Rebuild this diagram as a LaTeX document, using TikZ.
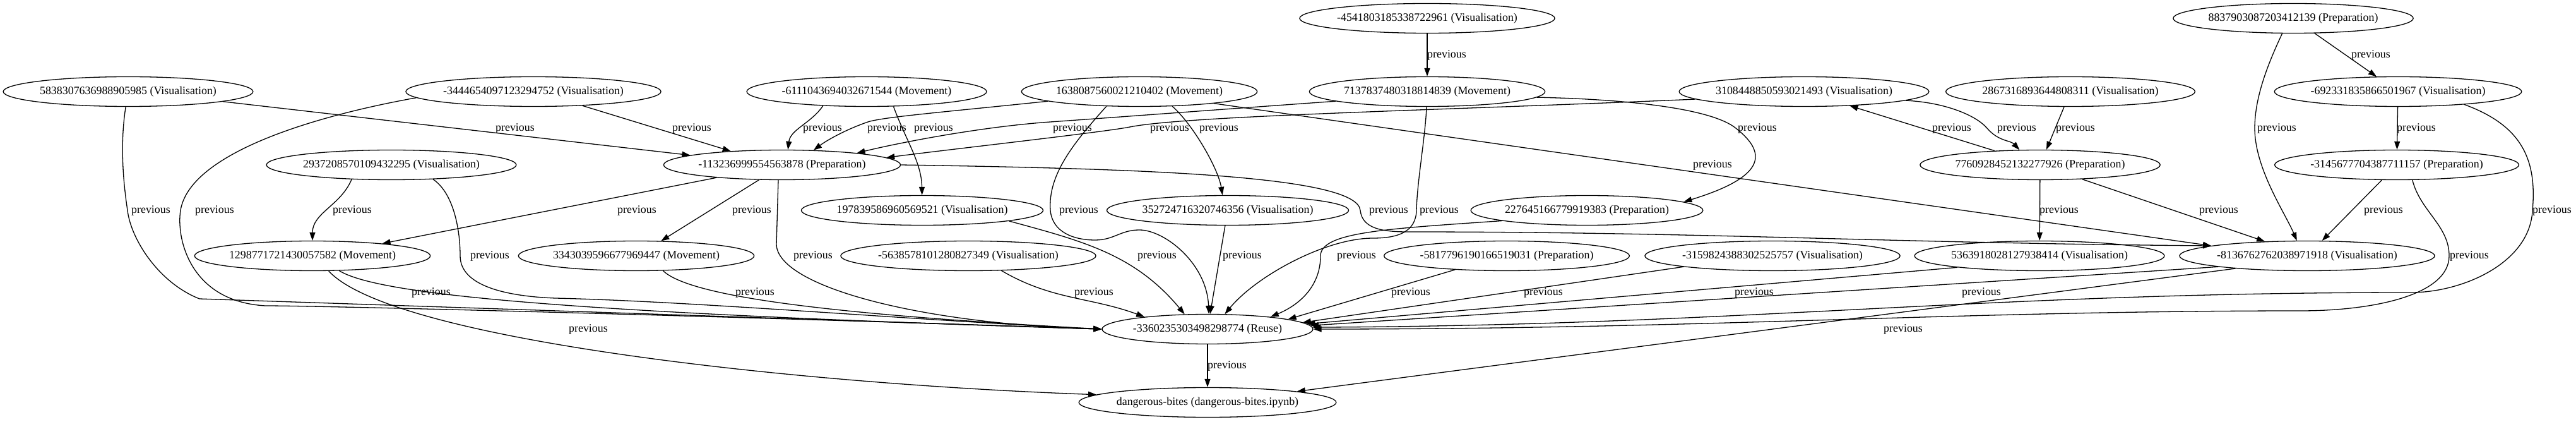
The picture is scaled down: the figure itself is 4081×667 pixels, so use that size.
\documentclass[tikz,border=0pt]{standalone}
\usepackage{fontspec}
\setmainfont{Liberation Serif}
\usetikzlibrary{shapes.geometric,arrows.meta}

\begin{document}
\begin{tikzpicture}[x=1pt,y=1pt,line width=1.3pt,
    cell/.style={draw,ellipse,inner xsep=0pt,inner ysep=2pt,minimum height=47pt,font=\fontsize{17.9}{20}\selectfont},
    lbl/.style={inner sep=0pt,font=\fontsize{17.9}{20}\selectfont},
    prev/.style={-{Triangle[length=13pt,width=9pt]}}]
\useasboundingbox (0,0) rectangle (4081,667);
% top row
\node[cell] (n4541) at (2261,638) {-4541803185338722961 (Visualisation)};
\node[cell] (n8837) at (3633,638) {8837903087203412139 (Preparation)};
% second row
\node[cell] (n5838) at (203,522) {5838307636988905985 (Visualisation)};
\node[cell] (n3444) at (845,522) {-3444654097123294752 (Visualisation)};
\node[cell] (n6111) at (1373,522) {-6111043694032671544 (Movement)};
\node[cell] (n1638) at (1805,522) {1638087560021210402 (Movement)};
\node[cell] (n7137) at (2261,522) {7137837480318814839 (Movement)};
\node[cell] (n3108) at (2858,522) {3108448850593021493 (Visualisation)};
\node[cell] (n2867) at (3280,522) {2867316893644808311 (Visualisation)};
\node[cell] (n6923) at (3799,522) {-692331835866501967 (Visualisation)};
% third row
\node[cell] (n2937) at (620,406) {2937208570109432295 (Visualisation)};
\node[cell] (n1132) at (1239,406) {-113236999554563878 (Preparation)};
\node[cell] (n7760) at (3232,406) {7760928452132277926 (Preparation)};
\node[cell] (n3145) at (3797,406) {-3145677704387711157 (Preparation)};
\node[cell] (n1978) at (1461,334) {197839586960569521 (Visualisation)};
\node[cell] (n3527) at (1945,334) {352724716320746356 (Visualisation)};
\node[cell] (n2276) at (2514,334) {227645166779919383 (Preparation)};
% fourth row
\node[cell] (n1298) at (495,262) {1298771721430057582 (Movement)};
\node[cell] (n3343) at (1008,262) {3343039596677969447 (Movement)};
\node[cell] (n5638) at (1534,262) {-5638578101280827349 (Visualisation)};
\node[cell] (n5817) at (2387,262) {-5817796190166519031 (Preparation)};
\node[cell] (n3159) at (2808,262) {-3159824388302525757 (Visualisation)};
\node[cell] (n5363) at (3231,262) {5363918028127938414 (Visualisation)};
\node[cell] (n8136) at (3655,262) {-8136762762038971918 (Visualisation)};
% bottom
\node[cell] (n3360) at (1913,146) {-3360235303498298774 (Reuse)};
\node[cell] (ndb) at (1913,30) {dangerous-bites (dangerous-bites.ipynb)};

% edges
\draw[prev] (n4541) -- (n7137);
\draw[prev] (n8837) -- (n6923);
\draw[prev] (n8837.-126) .. controls (3590,560) and (3572,510) .. (3572,464) .. controls (3572,400) and (3620,330) .. (n8136.124);
\draw[prev] (n6923) -- (n3145);
\draw[prev] (n6923.-11) .. controls (3990,470) and (4020,420) .. (4012,334) .. controls (4008,250) and (3900,204) .. (3820,204) .. controls (3140,204) and (2760,152) .. (n3360.1);
\draw[prev] (n3145) -- (n8136);
\draw[prev] (n3145.-44) .. controls (3834,333) and (3880,310) .. (3880,262) .. controls (3880,200) and (3760,175) .. (3645,175) .. controls (3100,175) and (2700,146) .. (n3360.0);
\draw[prev] (n2867) -- (n7760);
\draw[prev] (n7760) -- (n3108);
\draw[prev] (n3108.-5) .. controls (3080,505) and (3130,485) .. (3148,464) .. controls (3166,443) and (3185,445) .. (n7760.144);
\draw[prev] (n7760) -- (n5363);
\draw[prev] (n7760) -- (n8136);
\draw[prev] (n3108.184) .. controls (2300,493) and (1880,484) .. (1790,466) .. controls (1750,458) and (1500,430) .. (n1132.4);
\draw[prev] (n7137.186) .. controls (1950,495) and (1750,480) .. (1664,474) .. controls (1550,466) and (1420,440) .. (n1132.9);
\draw[prev] (n7137.-3) .. controls (2580,510) and (2712,495) .. (2750,464) .. controls (2805,421) and (2790,385) .. (n2276.5);
\draw[prev] (n7137) .. controls (2258,450) and (2245,380) .. (2244,334) .. controls (2243,300) and (2215,290) .. (2175,290) .. controls (2100,290) and (1990,230) .. (n3360.41);
\draw[prev] (n1638.186) .. controls (1500,490) and (1400,482) .. (1375,474) .. controls (1340,462) and (1310,445) .. (n1132.25);
\draw[prev] (n1638.-24) .. controls (1890,470) and (1930,400) .. (n3527.109);
\draw[prev] (n1638.-156) .. controls (1700,440) and (1660,390) .. (1664,334) .. controls (1667,300) and (1700,287) .. (1735,287) .. controls (1765,287) and (1775,303) .. (1805,303) .. controls (1845,303) and (1912,250) .. (n3360.85);
\draw[prev] (n1638.-9) -- (n8136.174);
\draw[prev] (n6111.-162) .. controls (1285,472) and (1252,462) .. (n1132.69);
\draw[prev] (n6111.-29) .. controls (1435,445) and (1460,410) .. (n1978);
\draw[prev] (n3444.-16) -- (n1132.165);
\draw[prev] (n3444.-177) .. controls (480,480) and (300,420) .. (286,334) .. controls (279,291) and (300,190) .. (420,183) .. controls (520,183) and (1200,165) .. (n3360.180);
\draw[prev] (n5838.-6) -- (n1132.174);
\draw[prev] (n5838) .. controls (190,440) and (195,380) .. (202,334) .. controls (207,290) and (250,220) .. (316,194) -- (n3360.180);
\draw[prev] (n2937.-160) .. controls (540,342) and (495,330) .. (n1298);
\draw[prev] (n2937.-19) .. controls (720,360) and (729,300) .. (729,262) .. controls (729,215) and (800,198) .. (880,195) .. controls (1100,190) and (1450,160) .. (n3360.180);
\draw[prev] (n1132.-169) -- (n1298.10);
\draw[prev] (n1132.-147) -- (n3343.31);
\draw[prev] (n1132.-104) -- (1230,280) .. controls (1232,215) and (1450,155) .. (n3360.180);
\draw[prev] (n1132.0) .. controls (1800,400) and (2150,390) .. (2155,334) .. controls (2158,305) and (2190,300) .. (2230,300) .. controls (2700,300) and (3000,282) .. (n8136.174);
\draw[prev] (n1978.-7) .. controls (1717,285) and (1798,264) .. (n3360.147);
\draw[prev] (n3527) -- (n3360);
\draw[prev] (n2276.-173) .. controls (2200,305) and (2092,300) .. (2092,262) .. controls (2092,215) and (2060,185) .. (n3360.11);
\draw[prev] (n1298.-29) .. controls (600,200) and (900,172) .. (n3360.180);
\draw[prev] (n1298.-43) .. controls (620,130) and (1250,60) .. (ndb.176);
\draw[prev] (n3343.-29) .. controls (1100,190) and (1400,165) .. (n3360.180);
\draw[prev] (n5638.-24) .. controls (1666,192) and (1727,197) .. (n3360.169);
\draw[prev] (n5817.-165) -- (n3360.7);
\draw[prev] (n3159.-173) -- (n3360.4);
\draw[prev] (n5363.-172) -- (n3360.3);
\draw[prev] (n8136.-173) -- (n3360.2);
\draw[prev] (n8136.-170) -- (ndb.7);
\draw[prev] (n3360) -- (ndb);

% edge labels
\foreach \lx/\ly [count=\i] in {2292/580, 3756/580, 3607/464, 3828/464, 4043/334,
    3776/334, 3912/262, 3288/464, 3092/464, 3195/464, 3262/334, 3515/334,
    1853/464, 1699/464, 2784/464, 2280/334, 1405/464, 1931/464, 1709/334,
    2713/406, 1303/464, 1479/464, 1096/464, 340/334, 816/464, 239/334,
    558/334, 776/262, 1009/334, 1191/334, 1288/262, 2200/334, 1833/262,
    1968/262, 2149/262, 683/204, 932/146, 1196/204, 1733/204, 2235/204,
    2445/204, 2779/204, 3139/204, 3015/146, 1944/88}
  \node[lbl] (lab\i) at (\lx,\ly) {previous};
\end{tikzpicture}
\end{document}
